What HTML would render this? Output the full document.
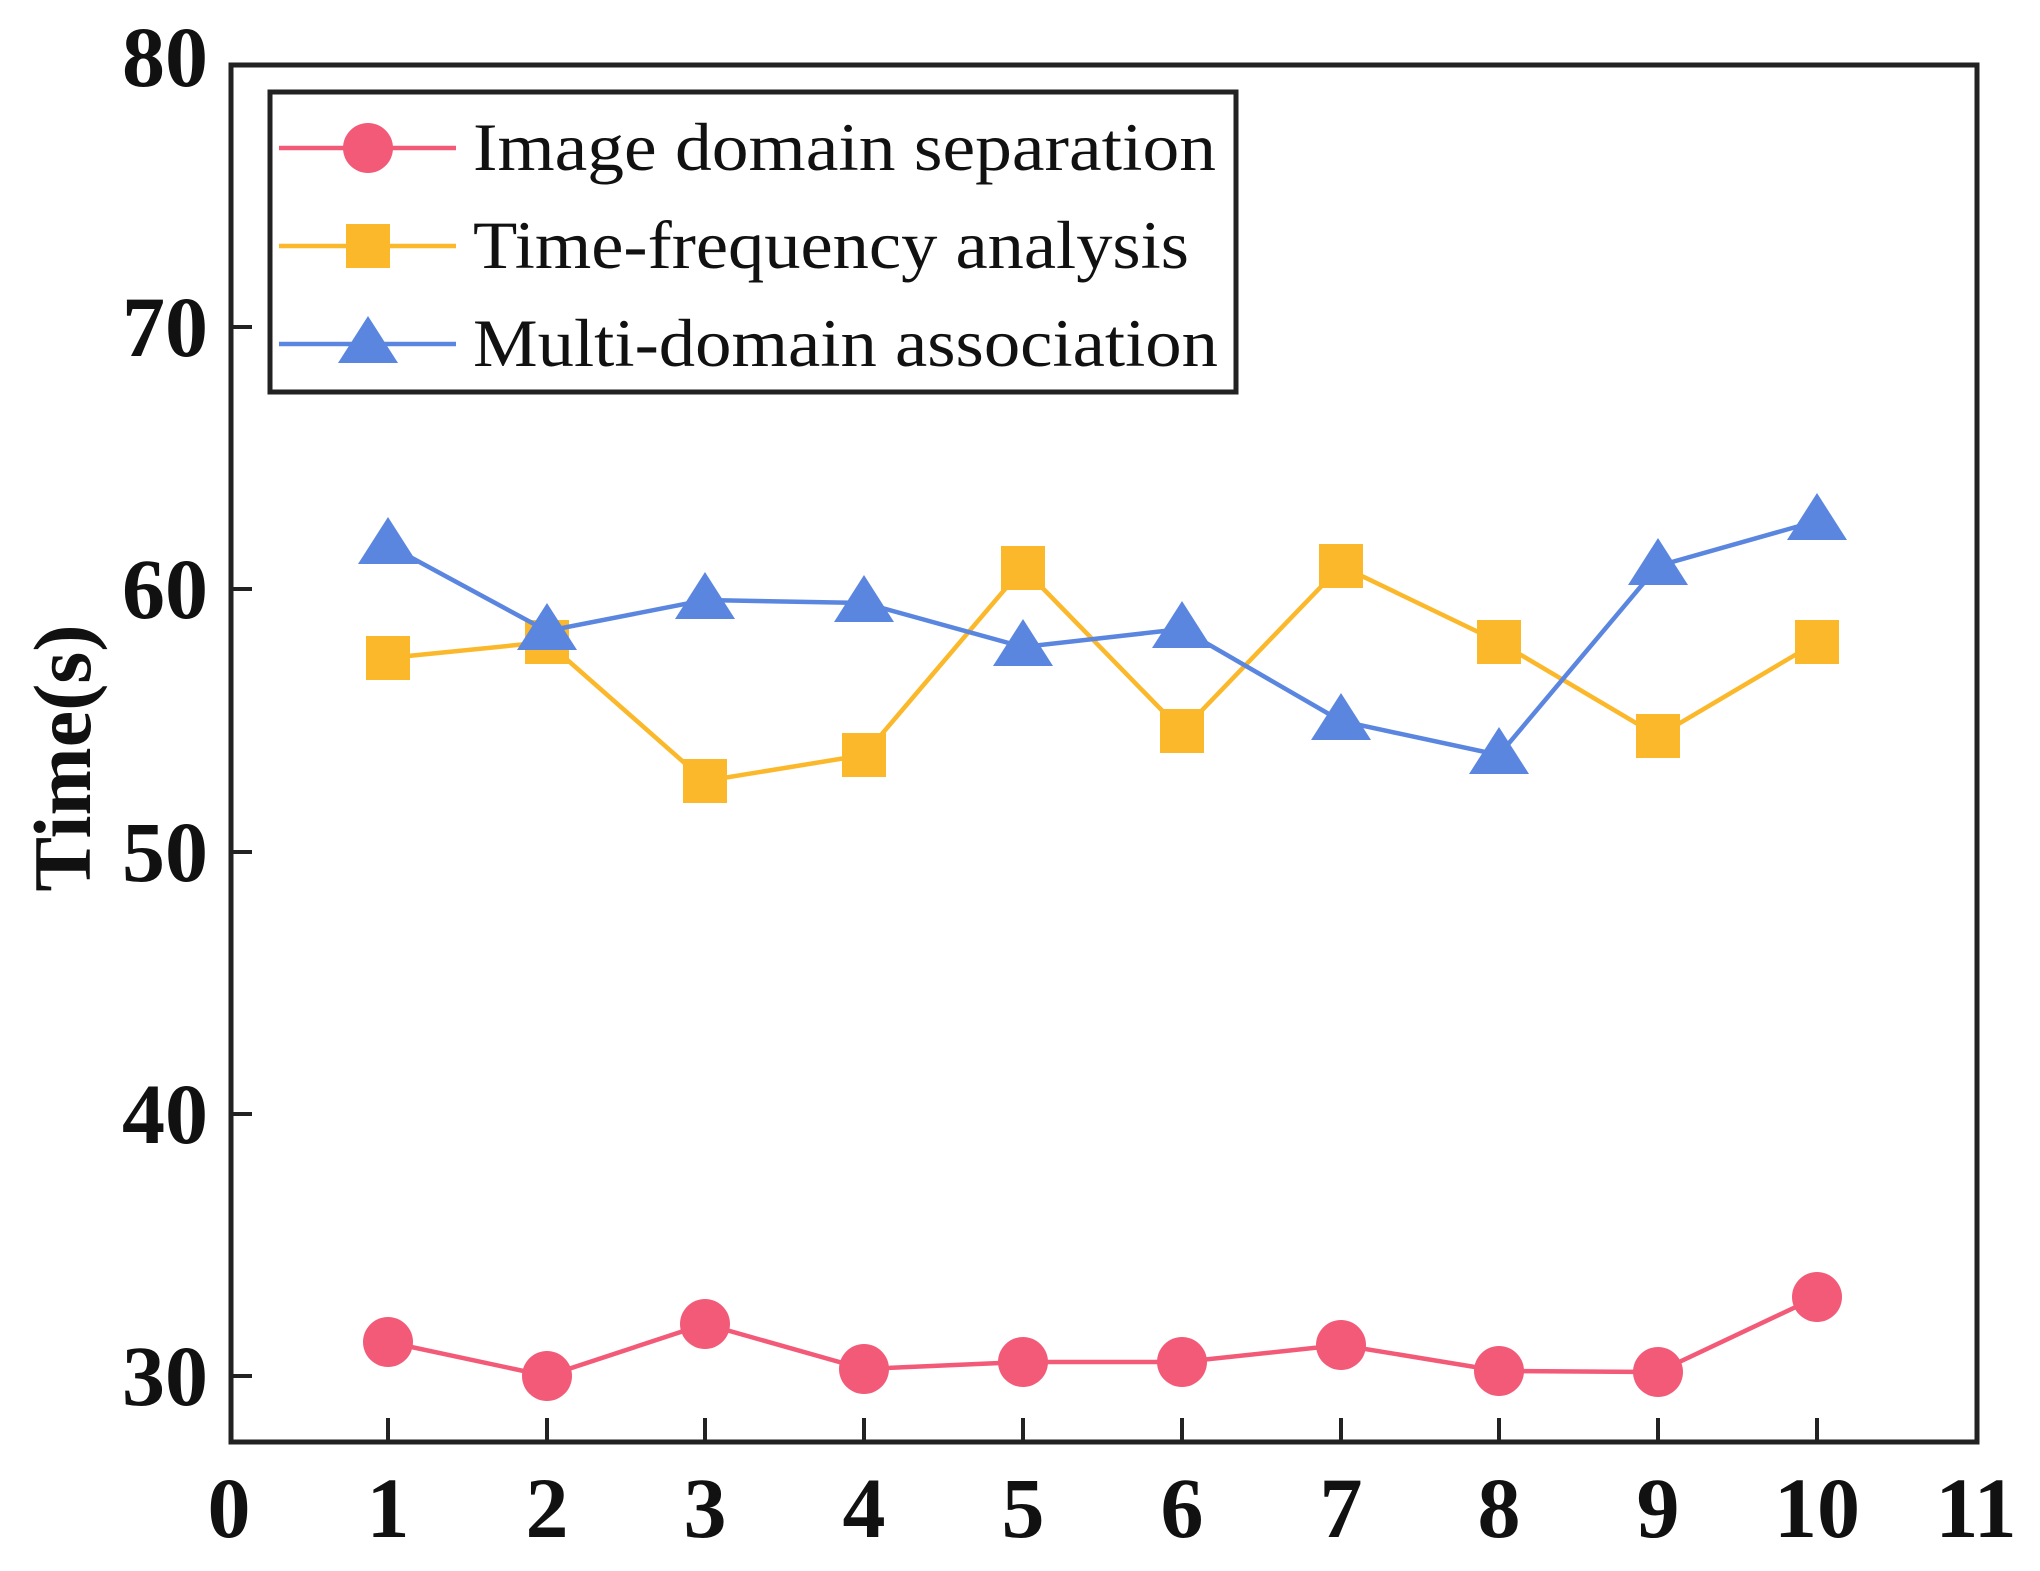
<!DOCTYPE html>
<html><head><meta charset="utf-8"><style>html,body{margin:0;padding:0;background:#fff}</style></head><body>
<svg width="2040" height="1566" viewBox="0 0 2040 1566" xmlns="http://www.w3.org/2000/svg" font-family="'Liberation Serif', serif">
<rect x="0" y="0" width="2040" height="1566" fill="#fff"/>
<rect x="231" y="65" width="1746" height="1377" fill="none" stroke="#222" stroke-width="5"/>
<g stroke="#222" stroke-width="4">
<line x1="231" y1="1376" x2="252" y2="1376"/><line x1="231" y1="1114" x2="252" y2="1114"/>
<line x1="231" y1="852" x2="252" y2="852"/><line x1="231" y1="589" x2="252" y2="589"/>
<line x1="231" y1="327" x2="252" y2="327"/>
<line x1="388" y1="1442" x2="388" y2="1418"/><line x1="547" y1="1442" x2="547" y2="1418"/>
<line x1="705" y1="1442" x2="705" y2="1418"/><line x1="864" y1="1442" x2="864" y2="1418"/>
<line x1="1023" y1="1442" x2="1023" y2="1418"/><line x1="1182" y1="1442" x2="1182" y2="1418"/>
<line x1="1341" y1="1442" x2="1341" y2="1418"/><line x1="1499" y1="1442" x2="1499" y2="1418"/>
<line x1="1658" y1="1442" x2="1658" y2="1418"/><line x1="1817" y1="1442" x2="1817" y2="1418"/>
</g>
<g font-size="86" font-weight="bold" fill="#111" text-anchor="end">
<text x="208" y="1405">30</text><text x="208" y="1143">40</text><text x="208" y="881">50</text>
<text x="208" y="618">60</text><text x="208" y="356">70</text><text x="208" y="86">80</text>
</g>
<g font-size="86" font-weight="bold" fill="#111" text-anchor="middle">
<text x="229" y="1537">0</text><text x="388" y="1537">1</text><text x="547" y="1537">2</text>
<text x="705" y="1537">3</text><text x="864" y="1537">4</text><text x="1023" y="1537">5</text>
<text x="1182" y="1537">6</text><text x="1341" y="1537">7</text><text x="1499" y="1537">8</text>
<text x="1658" y="1537">9</text><text x="1817" y="1537">10</text><text x="1976" y="1537">11</text>
</g>
<text transform="translate(90,758) rotate(-90)" font-size="82" font-weight="bold" text-anchor="middle" fill="#111">Time(s)</text>
<polyline fill="none" stroke="#f25a78" stroke-width="4.5" points="388,1342 547,1376 705,1324 864,1369 1023,1362 1182,1362 1341,1345 1499,1371 1658,1372 1817,1297"/>
<g fill="#f25a78">
<circle cx="388" cy="1342" r="25"/><circle cx="547" cy="1376" r="25"/><circle cx="705" cy="1324" r="25"/>
<circle cx="864" cy="1369" r="25"/><circle cx="1023" cy="1362" r="25"/><circle cx="1182" cy="1362" r="25"/>
<circle cx="1341" cy="1345" r="25"/><circle cx="1499" cy="1371" r="25"/><circle cx="1658" cy="1372" r="25"/>
<circle cx="1817" cy="1297" r="25"/>
</g>
<polyline fill="none" stroke="#fbb82a" stroke-width="4.5" points="388,658 547,642 705,781 864,755 1023,568 1182,731 1341,566 1499,642 1658,736 1817,642"/>
<g fill="#fbb82a">
<rect x="366" y="636" width="44" height="44"/><rect x="525" y="620" width="44" height="44"/>
<rect x="683" y="759" width="44" height="44"/><rect x="842" y="733" width="44" height="44"/>
<rect x="1001" y="546" width="44" height="44"/><rect x="1160" y="709" width="44" height="44"/>
<rect x="1319" y="544" width="44" height="44"/><rect x="1477" y="620" width="44" height="44"/>
<rect x="1636" y="714" width="44" height="44"/><rect x="1795" y="620" width="44" height="44"/>
</g>
<polyline fill="none" stroke="#5b86e0" stroke-width="4.5" points="388,545 547,631 705,600 864,603 1023,647 1182,629 1341,721 1499,755 1658,566 1817,521"/>
<g fill="#5b86e0">
<polygon points="388,517 418,564 358,564"/><polygon points="547,603 577,650 517,650"/>
<polygon points="705,572 735,619 675,619"/><polygon points="864,575 894,622 834,622"/>
<polygon points="1023,619 1053,666 993,666"/><polygon points="1182,601 1212,648 1152,648"/>
<polygon points="1341,693 1371,740 1311,740"/><polygon points="1499,727 1529,774 1469,774"/>
<polygon points="1658,538 1688,585 1628,585"/><polygon points="1817,493 1847,540 1787,540"/>
</g>
<rect x="270" y="92" width="966" height="300" fill="#fff" stroke="#222" stroke-width="5"/>
<line x1="279" y1="148" x2="456" y2="148" stroke="#f25a78" stroke-width="4.5"/>
<circle cx="368" cy="148" r="25" fill="#f25a78"/>
<line x1="279" y1="246" x2="456" y2="246" stroke="#fbb82a" stroke-width="4.5"/>
<rect x="346" y="224" width="44" height="44" fill="#fbb82a"/>
<line x1="279" y1="344" x2="456" y2="344" stroke="#5b86e0" stroke-width="4.5"/>
<polygon points="368,316 398,363 338,363" fill="#5b86e0"/>
<g font-size="68" fill="#111">
<text x="473" y="170" textLength="743" lengthAdjust="spacingAndGlyphs">Image domain separation</text>
<text x="473" y="268" textLength="716" lengthAdjust="spacingAndGlyphs">Time-frequency analysis</text>
<text x="473" y="366" textLength="745" lengthAdjust="spacingAndGlyphs">Multi-domain association</text>
</g>
</svg>
</body></html>
